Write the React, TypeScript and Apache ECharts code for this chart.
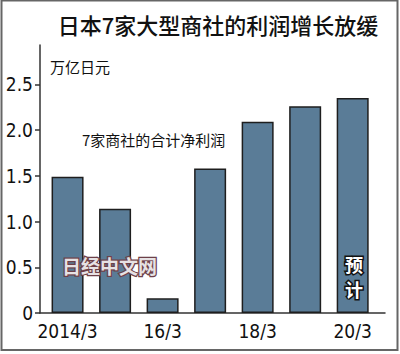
import React, { useEffect, useRef } from "react";
import * as echarts from "echarts";

const categories = ["2014/3", "15/3", "16/3", "17/3", "18/3", "19/3", "20/3"];
const profits = [1.49, 1.14, 0.16, 1.58, 2.09, 2.26, 2.35];
const xTickIndex = [0, 2, 4, 6];
const yTicks = [0, 0.5, 1, 1.5, 2, 2.5];

const title = "日本7家大型商社的利润增长放缓";
const unitText = "万亿日元";
const seriesText = "7家商社的合计净利润";
const forecastText = "预\n计";
const watermark = "日经中文网";

const numFont = '"Liberation Sans Narrow", "DejaVu Sans Condensed", "Noto Sans", sans-serif';
const cjkFont = '"Noto Sans CJK SC", sans-serif';

export default function App() {
  const ref = useRef<HTMLDivElement>(null);
  useEffect(() => {
    if (!ref.current) return;
    const chart = echarts.init(ref.current, null, { renderer: "svg" });
    chart.setOption({
      animation: false,
      backgroundColor: "#ffffff",
      grid: { left: 40, right: 15, top: 45, bottom: 41 },
      xAxis: {
        type: "value",
        min: -0.58,
        max: 6.68,
        splitLine: { show: false },
        axisLine: { show: true, onZero: false, lineStyle: { color: "#333", width: 1.5 } },
        axisTick: { show: false },
        axisLabel: {
          customValues: xTickIndex,
          formatter: (v: number) => categories[Math.round(v)] ?? "",
          color: "#111",
          fontSize: 19,
          fontFamily: numFont,
          margin: 8,
        },
      },
      yAxis: {
        type: "value",
        min: 0,
        max: 2.93,
        splitLine: { show: false },
        axisLine: { show: true, onZero: false, lineStyle: { color: "#333", width: 1.5 } },
        axisTick: { show: true, customValues: yTicks, length: 5, inside: false, lineStyle: { color: "#333", width: 1.5 } },
        axisLabel: {
          customValues: yTicks,
          formatter: (v: number) => (v === 0 ? "0" : v.toFixed(1)),
          color: "#111",
          fontSize: 19,
          fontFamily: numFont,
          margin: 7,
        },
      },
      series: [
        {
          type: "bar",
          data: profits.map((v, i) => [i, v]),
          barWidth: 32,
          itemStyle: { color: "#5a7c97", borderColor: "#1e1e1e", borderWidth: 1.5 },
        },
      ],
      graphic: [
        {
          type: "rect",
          shape: { x: 1.5, y: 0.5, width: 396, height: 349.5 },
          style: { fill: "none", stroke: "#666", lineWidth: 2 },
          silent: true,
        },
        {
          type: "text",
          x: 218,
          y: 24,
          style: { text: title, fontSize: 22, fontWeight: 500, fontFamily: cjkFont, fill: "#111", textAlign: "center", textVerticalAlign: "middle" },
        },
        {
          type: "text",
          x: 50,
          y: 66,
          style: { text: unitText, fontSize: 15, fontFamily: cjkFont, fill: "#111", textAlign: "left", textVerticalAlign: "middle" },
        },
        {
          type: "text",
          x: 82,
          y: 139,
          style: { text: seriesText, fontSize: 15, fontFamily: cjkFont, fill: "#111", textAlign: "left", textVerticalAlign: "middle" },
        },
        {
          type: "text",
          x: 62,
          y: 265,
          z: 10,
          style: {
            text: watermark,
            fontSize: 19,
            fontWeight: "bold",
            fontFamily: cjkFont,
            fill: "#e6e2e4",
            stroke: "#6e4048",
            lineWidth: 2.5,
            textAlign: "left",
            textVerticalAlign: "middle",
          },
        },
        {
          type: "text",
          x: 354,
          y: 276,
          z: 10,
          style: {
            text: forecastText,
            fontSize: 18,
            fontWeight: "bold",
            fontFamily: cjkFont,
            lineHeight: 25,
            fill: "#ffffff",
            stroke: "#111",
            lineWidth: 3,
            textAlign: "center",
            textVerticalAlign: "middle",
          },
        },
      ],
    });
    return () => chart.dispose();
  }, []);
  return (
    <div
      ref={ref}
      style={{ position: "fixed", left: 0, top: 0, width: 400, height: 354 }}
    />
  );
}
